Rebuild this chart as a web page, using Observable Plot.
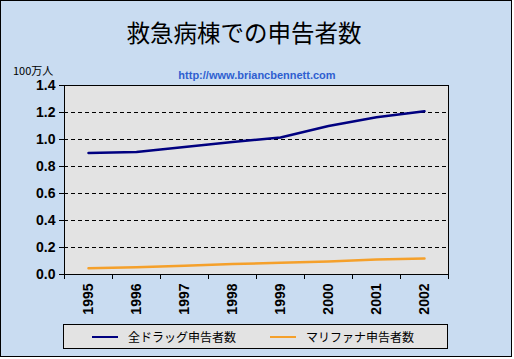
<!DOCTYPE html>
<html><head><meta charset="utf-8">
<script src="https://cdn.jsdelivr.net/npm/d3@7"></script>
<script src="https://cdn.jsdelivr.net/npm/@observablehq/plot@0.6"></script>
<style>
html,body{margin:0;padding:0;background:#fff;}
#wrap{position:relative;width:514px;height:359px;overflow:hidden;font-family:"Liberation Sans",Arial,sans-serif;}
#frame{position:absolute;left:0;top:0;width:512px;height:357px;box-sizing:border-box;border:1px solid #000;background:#c9dcf1;}
#title{position:absolute;left:0;width:488px;top:18px;text-align:center;font-family:"Noto Sans CJK JP",sans-serif;font-size:23.5px;line-height:28px;color:#000;}
#unit{position:absolute;left:13px;top:64px;font-family:"Noto Sans CJK JP",sans-serif;font-size:11px;line-height:12px;color:#000;}
#url{position:absolute;left:0;width:514px;top:69px;text-align:center;font-weight:bold;font-size:11px;line-height:13px;color:#2f5fd0;}
#chart{position:absolute;left:0;top:70px;}
#legend{position:absolute;left:63px;top:324px;width:385px;height:25px;box-sizing:border-box;border:1px solid #000;background:#e3e3e3;display:flex;align-items:center;padding-left:28px;font-family:"Noto Sans CJK JP",sans-serif;font-size:12px;}
.item{display:flex;align-items:center;}
.item:first-child{width:178px;}
.sw{width:26px;height:2px;margin-right:10px;}
</style></head>
<body>
<div id="wrap">
  <div id="frame"></div>
  <div id="title"></div>
  <div id="unit"></div>
  <div id="url"></div>
  <div id="chart"></div>
  <div id="legend"></div>
</div>
<script>
const titleText = "救急病棟での申告者数";
const unitText = "100万人";
const urlText = "http://www.briancbennett.com";
const years = ["1995","1996","1997","1998","1999","2000","2001","2002"];
const seriesNames = ["全ドラッグ申告者数","マリファナ申告者数"];
const seriesColors = ["#000080","#f5a02a"];
const allDrugs = [0.900, 0.907, 0.944, 0.982, 1.015, 1.100, 1.165, 1.210];
const marijuana = [0.047, 0.054, 0.065, 0.077, 0.087, 0.096, 0.111, 0.119];
const yTicks = [0, 0.2, 0.4, 0.6, 0.8, 1.0, 1.2, 1.4];
const gridTicks = [0.2, 0.4, 0.6, 0.8, 1.0, 1.2];

document.getElementById("title").textContent = titleText;
document.getElementById("unit").textContent = unitText;
document.getElementById("url").textContent = urlText;

const rows = [];
[allDrugs, marijuana].forEach((vals, s) => vals.forEach((v, i) => rows.push({s: seriesNames[s], x: i + 0.5, y: v})));

const numFont = {fontFamily: "Liberation Sans, Arial, sans-serif", fontWeight: "bold", fontSize: 14};

const chart = Plot.plot({
  width: 514, height: 250,
  marginLeft: 64, marginRight: 66, marginTop: 15, marginBottom: 46,
  style: {background: "transparent", color: "#000", fontFamily: "Liberation Sans, Arial, sans-serif"},
  x: {type: "linear", domain: [0, years.length]},
  y: {domain: [0, 1.4]},
  color: {domain: seriesNames, range: seriesColors},
  marks: [
    Plot.frame({fill: "#e3e3e3", stroke: null}),
    Plot.gridY(gridTicks, {stroke: "#000", strokeOpacity: 1, strokeWidth: 1, strokeDasharray: "4,3"}),
    Plot.line(rows, {x: "x", y: "y", z: "s", stroke: "s", strokeWidth: 2.5}),
    Plot.frame({stroke: "#000", strokeWidth: 1}),
    Plot.axisY(yTicks, {tickSize: 5, tickPadding: 4, tickFormat: d3.format(".1f"), label: null, ...numFont}),
    Plot.axisX(d3.range(years.length + 1), {tickSize: 5, tickFormat: () => "", label: null}),
    Plot.axisX(years.map((_, i) => i + 0.5), {tickSize: 0, tickPadding: 9, tickRotate: -90, tickFormat: d => years[Math.floor(d)], label: null, ...numFont})
  ]
});
document.getElementById("chart").appendChild(chart);

const legend = document.getElementById("legend");
seriesNames.forEach((n, i) => {
  const it = document.createElement("div"); it.className = "item";
  const sw = document.createElement("div"); sw.className = "sw"; sw.style.background = seriesColors[i];
  const tx = document.createElement("span"); tx.textContent = n;
  it.appendChild(sw); it.appendChild(tx); legend.appendChild(it);
});
</script>
</body></html>
